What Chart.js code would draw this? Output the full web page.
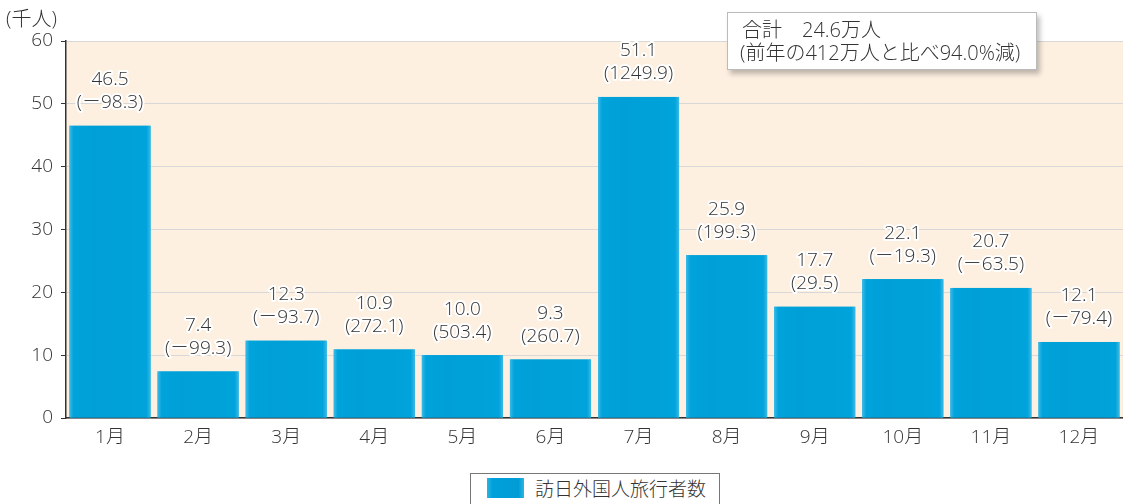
<!DOCTYPE html>
<html><head><meta charset="utf-8">
<script src="https://cdn.jsdelivr.net/npm/chart.js@4.4.0/dist/chart.umd.min.js"></script>
<style>
html,body{margin:0;padding:0;background:#fff;}
#wrap{position:relative;width:1123px;height:504px;font-family:"Open Sans","Noto Sans CJK JP",sans-serif;font-weight:300;color:#333;}
canvas{position:absolute;left:0;top:0;}
#unit{position:absolute;left:6px;top:3px;font-size:20px;color:#333;}
#note{position:absolute;left:727px;top:12px;width:310px;height:58px;background:#fff;border:1px solid #bbb;box-shadow:3px 4px 5px rgba(0,0,0,0.25);font-size:20px;line-height:23px;padding:5px 0 0 14px;box-sizing:border-box;color:#333;white-space:nowrap;}
#note .l2{margin-left:-2px;}
#legend{position:absolute;left:470px;top:473px;width:250px;height:40px;border:1px solid #777;background:#fff;box-sizing:border-box;font-size:19px;}
#legend .sw{position:absolute;left:16px;top:4px;width:37px;height:20px;}
#legend .tx{position:absolute;left:64px;top:0px;}
</style></head>
<body><div id="wrap">
<canvas id="c" width="1123" height="504"></canvas>
<div id="unit">(千人)</div>
<div id="note">合計　24.6万人<br><span class="l2">(前年の412万人と比べ94.0%減)</span></div>
<div id="legend"><div class="sw"></div><div class="tx"></div></div>
</div>
<script>
const categories = ["1月","2月","3月","4月","5月","6月","7月","8月","9月","10月","11月","12月"];
const visitors = [46.5, 7.4, 12.3, 10.9, 10.0, 9.3, 51.1, 25.9, 17.7, 22.1, 20.7, 12.1];
const changes = ["－98.3","－99.3","－93.7","272.1","503.4","260.7","1249.9","199.3","29.5","－19.3","－63.5","－79.4"];
const yTicks = [0,10,20,30,40,50,60];
const seriesName = "訪日外国人旅行者数";
const barColor = "#00A0DA";
const FONT = '"Open Sans","Noto Sans CJK JP",sans-serif';

document.querySelector('#legend .sw').style.background = 'linear-gradient(90deg,#2DB5E4,#00A0DA 15%,#009CD6 85%,#2DB5E4)';
document.querySelector('#legend .tx').textContent = seriesName;

const bgPlugin = {
  id:'bg',
  beforeDraw(chart){
    const {ctx, chartArea:a} = chart;
    ctx.save(); ctx.fillStyle = '#FDF0E1';
    ctx.fillRect(a.left, a.top, a.right-a.left, a.bottom-a.top);
    ctx.restore();
  }
};
const labelPlugin = {
  id:'lbl',
  afterDatasetsDraw(chart){
    const ctx = chart.ctx;
    const meta = chart.getDatasetMeta(0);
    ctx.save();
    meta.data.forEach(el=>{
      const p = el.getProps(['x','y','base','width']);
      const l = p.x - p.width/2, r = p.x + p.width/2;
      const g = ctx.createLinearGradient(l,0,r,0);
      g.addColorStop(0,'#3BBAE6'); g.addColorStop(0.05,'#00A3DB');
      g.addColorStop(0.3,'#009FD8'); g.addColorStop(0.7,'#00A1D9');
      g.addColorStop(0.95,'#00A3DB'); g.addColorStop(1,'#3BBAE6');
      ctx.fillStyle = g;
      ctx.fillRect(l, p.y, p.width, p.base - p.y);
    });
    ctx.font = '300 19px ' + FONT;
    ctx.textAlign = 'center'; ctx.textBaseline = 'middle';
    ctx.lineJoin = 'round';
    meta.data.forEach((el,i)=>{
      const lines = [visitors[i].toFixed(1), '(' + changes[i] + ')'];
      const ys = [el.y-46, el.y-23];
      lines.forEach((t,k)=>{
        ctx.strokeStyle = '#fff'; ctx.lineWidth = 4;
        ctx.strokeText(t, el.x, ys[k]);
        ctx.fillStyle = '#333';
        ctx.fillText(t, el.x, ys[k]);
      });
    });
    ctx.restore();
  }
};

new Chart(document.getElementById('c'), {
  type:'bar',
  data:{labels:categories, datasets:[{label:seriesName, data:visitors, backgroundColor:barColor, borderWidth:0, categoryPercentage:1, barPercentage:0.92}]},
  options:{
    responsive:false, animation:false,
    layout:{padding:{top:41,right:0,left:0,bottom:0}},
    plugins:{legend:{display:false}, tooltip:{enabled:false}},
    scales:{
      x:{
        grid:{display:false, drawTicks:false},
        border:{display:true,color:'#333',width:1.5},
        ticks:{color:'#333',font:{size:19,family:FONT,weight:'300'},padding:8},
        afterFit(s){ s.height = 86; }
      },
      y:{
        min:0,max:60,
        afterBuildTicks(s){ s.ticks = yTicks.map(v=>({value:v})); },
        grid:{color:'#d8d8d8',lineWidth:1,tickColor:'#333',tickLength:5,drawTicks:true},
        border:{display:true,color:'#333',width:1.5},
        ticks:{color:'#333',font:{size:19,family:FONT,weight:'300'},padding:8},
        afterFit(s){ s.width = 66; }
      }
    }
  },
  plugins:[bgPlugin,labelPlugin]
});
</script>
</body></html>
